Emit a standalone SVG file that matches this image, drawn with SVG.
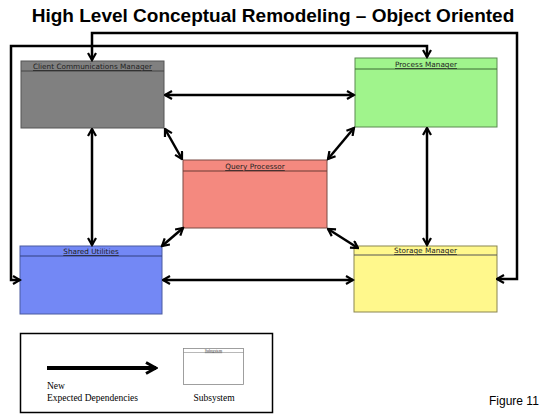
<svg xmlns="http://www.w3.org/2000/svg" width="550" height="418" viewBox="0 0 550 418">
<defs>
<marker id="ah" markerWidth="10" markerHeight="10" viewBox="0 0 10 10" refX="8.5" refY="5" orient="auto-start-reverse" markerUnits="userSpaceOnUse">
<path d="M1.5,1 L8.5,5 L1.5,9" fill="none" stroke="#000" stroke-width="2.2"/>
</marker>
<marker id="ahl" markerWidth="14" markerHeight="14" viewBox="0 0 14 14" refX="12" refY="7" orient="auto" markerUnits="userSpaceOnUse">
<path d="M2,1.5 L12,7 L2,12.5" fill="none" stroke="#000" stroke-width="3"/>
</marker>
</defs>
<style>
.title{font-family:"Liberation Sans",Arial,sans-serif;font-weight:bold;font-size:19px;fill:#000}
.hdr{font-family:"DejaVu Sans","Liberation Sans",sans-serif;font-size:7.3px;fill:#222;text-decoration:underline;text-anchor:middle}
.conn{fill:none;stroke:#000;stroke-width:2.5}
.leg{font-family:"Liberation Serif","Times New Roman",serif;font-size:9.5px;fill:#000}
.fig{font-family:"Liberation Sans",Arial,sans-serif;font-size:12px;fill:#000}
</style>
<rect width="550" height="418" fill="#fff"/>
<text class="title" x="273" y="22" text-anchor="middle">High Level Conceptual Remodeling – Object Oriented</text>

<g id="ccm">
<rect x="21" y="61" width="143" height="67" fill="#808080" stroke="#555" stroke-width="1"/>
<line x1="21" y1="71" x2="164" y2="71" stroke="#444" stroke-width="1"/>
<text class="hdr" x="92.5" y="69">Client Communications Manager</text>
</g>
<g id="pm">
<rect x="355" y="58" width="142" height="69" fill="#a0f48c" stroke="#5a8a50" stroke-width="1"/>
<line x1="355" y1="69" x2="497" y2="69" stroke="#3d6a35" stroke-width="1"/>
<text class="hdr" x="426" y="67">Process Manager</text>
</g>
<g id="qp">
<rect x="183" y="160" width="144" height="68" fill="#f4897f" stroke="#7a4a45" stroke-width="1"/>
<line x1="183" y1="171" x2="327" y2="171" stroke="#6a3a35" stroke-width="1"/>
<text class="hdr" x="255" y="169">Query Processor</text>
</g>
<g id="su">
<rect x="20" y="246" width="142" height="68" fill="#7388f5" stroke="#4a5aa0" stroke-width="1"/>
<line x1="20" y1="256" x2="162" y2="256" stroke="#334080" stroke-width="1"/>
<text class="hdr" x="91" y="254">Shared Utilities</text>
</g>
<g id="sm">
<rect x="354" y="246" width="143" height="66" fill="#fff88c" stroke="#8a8550" stroke-width="1"/>
<line x1="354" y1="255" x2="497" y2="255" stroke="#555" stroke-width="1"/>
<text class="hdr" x="425.5" y="253">Storage Manager</text>
</g>

<g id="connectors">
<path class="conn" d="M497,279 H517 V33 H92 V60" marker-start="url(#ah)" marker-end="url(#ah)"/>
<path class="conn" d="M20,280 H11 V46 H427 V57" marker-start="url(#ah)" marker-end="url(#ah)"/>
<line class="conn" x1="165" y1="95" x2="354" y2="95" marker-start="url(#ah)" marker-end="url(#ah)"/>
<line class="conn" x1="92" y1="129" x2="92" y2="245" marker-start="url(#ah)" marker-end="url(#ah)"/>
<line class="conn" x1="427" y1="128" x2="427" y2="245" marker-start="url(#ah)" marker-end="url(#ah)"/>
<line class="conn" x1="163" y1="280" x2="353" y2="280" marker-start="url(#ah)" marker-end="url(#ah)"/>
<line class="conn" x1="165" y1="129" x2="182" y2="159" marker-start="url(#ah)" marker-end="url(#ah)"/>
<line class="conn" x1="354" y1="128" x2="328" y2="159" marker-start="url(#ah)" marker-end="url(#ah)"/>
<line class="conn" x1="162" y1="246" x2="183" y2="228" marker-start="url(#ah)" marker-end="url(#ah)"/>
<line class="conn" x1="358" y1="248" x2="328" y2="229" marker-start="url(#ah)" marker-end="url(#ah)"/>
</g>

<g id="legend">
<rect x="20.5" y="333.5" width="252" height="79" fill="#fff" stroke="#000" stroke-width="1.5"/>
<line x1="47" y1="368" x2="156" y2="368" stroke="#000" stroke-width="4" marker-end="url(#ahl)"/>
<text class="leg" x="47" y="389">New</text>
<text class="leg" x="47" y="401">Expected Dependencies</text>
<rect x="183.5" y="348.5" width="60" height="36" fill="#fff" stroke="#888" stroke-width="0.8"/>
<line x1="183.5" y1="352.5" x2="243.5" y2="352.5" stroke="#888" stroke-width="0.6"/>
<text x="213.5" y="351.7" font-family="Liberation Serif,serif" font-size="4" text-anchor="middle" fill="#333" text-decoration="underline">Subsystem</text>
<text class="leg" x="214" y="401" text-anchor="middle">Subsystem</text>
</g>
<text class="fig" x="489" y="405">Figure 11</text>
</svg>
